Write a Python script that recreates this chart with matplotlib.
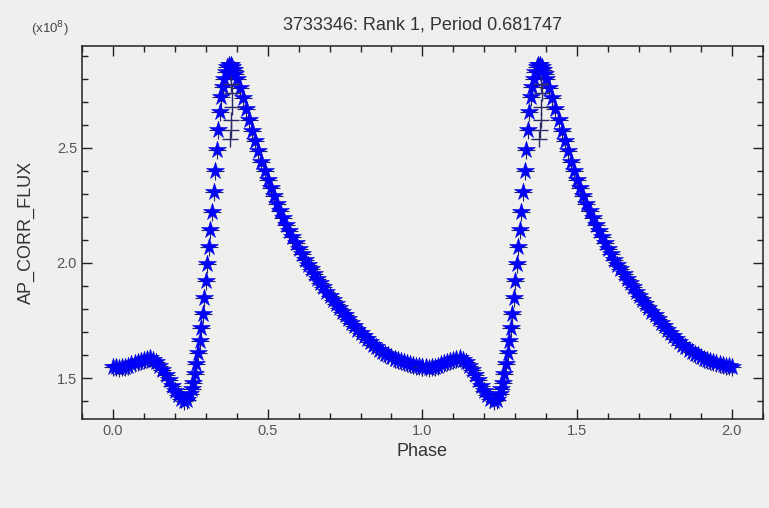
import matplotlib
matplotlib.use("Agg")
import numpy as np
import matplotlib.pyplot as plt
from matplotlib.ticker import MultipleLocator

plt.rcParams['font.family'] = ['Liberation Sans', 'DejaVu Sans']

# one folded cycle, flux in units of 1e8
phase = [0.00, 0.01, 0.02, 0.03, 0.04, 0.05, 0.06, 0.07, 0.08, 0.09,
         0.10, 0.11, 0.12, 0.13, 0.14, 0.15, 0.16, 0.17, 0.18, 0.19,
         0.20, 0.21, 0.22, 0.23, 0.24, 0.25, 0.255, 0.26, 0.265, 0.27,
         0.275, 0.28, 0.285, 0.29, 0.295, 0.30, 0.305, 0.31, 0.315, 0.32,
         0.325, 0.33, 0.335, 0.34, 0.345, 0.35, 0.355, 0.36, 0.365, 0.37,
         0.375, 0.38, 0.385, 0.39, 0.395, 0.40, 0.41, 0.42, 0.43, 0.44,
         0.45, 0.46, 0.47, 0.48, 0.49, 0.50, 0.51, 0.52, 0.53, 0.54,
         0.55, 0.56, 0.57, 0.58, 0.59, 0.60, 0.61, 0.62, 0.63, 0.64,
         0.65, 0.66, 0.67, 0.68, 0.69, 0.70, 0.71, 0.72, 0.73, 0.74,
         0.75, 0.76, 0.77, 0.78, 0.79, 0.80, 0.81, 0.82, 0.83, 0.84,
         0.85, 0.86, 0.87, 0.88, 0.89, 0.90, 0.91, 0.92, 0.93, 0.94,
         0.95, 0.96, 0.97, 0.98, 0.99]
flux_e8 = [1.550, 1.546, 1.545, 1.547, 1.550, 1.554, 1.559, 1.564, 1.569, 1.575,
           1.580, 1.584, 1.585, 1.580, 1.568, 1.552, 1.533, 1.512, 1.490, 1.467,
           1.445, 1.425, 1.410, 1.400, 1.405, 1.430, 1.452, 1.480, 1.518, 1.560,
           1.608, 1.660, 1.718, 1.780, 1.848, 1.920, 1.995, 2.070, 2.145, 2.220,
           2.310, 2.400, 2.490, 2.580, 2.655, 2.720, 2.765, 2.800, 2.830, 2.850,
           2.862, 2.860, 2.852, 2.840, 2.822, 2.800, 2.760, 2.715, 2.668, 2.620,
           2.575, 2.530, 2.485, 2.440, 2.400, 2.360, 2.325, 2.290, 2.258, 2.225,
           2.195, 2.166, 2.138, 2.112, 2.086, 2.062, 2.038, 2.015, 1.993, 1.972,
           1.952, 1.932, 1.913, 1.894, 1.876, 1.858, 1.840, 1.823, 1.806, 1.789,
           1.772, 1.756, 1.740, 1.725, 1.710, 1.696, 1.682, 1.669, 1.657, 1.645,
           1.634, 1.624, 1.615, 1.606, 1.598, 1.591, 1.584, 1.578, 1.573, 1.568,
           1.564, 1.560, 1.557, 1.554, 1.552]

# scattered points inside the peak
out_phase = [0.378, 0.380, 0.383, 0.384, 0.385, 0.382]
out_flux_e8 = [2.54, 2.58, 2.62, 2.68, 2.74, 2.78]

bg = '#efefed'
fig = plt.figure(figsize=(7.69, 5.08), dpi=100, facecolor=bg)
ax = fig.add_axes([0.1066, 0.1752, 0.8854, 0.7342], facecolor=bg)

p = np.append(np.array(phase), [phase[0] + 1.0])
f = np.append(np.array(flux_e8), [flux_e8[0]])
for k in range(2):
    ax.plot(p + k, f, ls='none', marker='+', ms=13, mew=0.8, color='#22226a')
    ax.plot(p + k, f, ls='none', marker='*', ms=13, mew=0.4, mfc='#0000ff', mec='#0000e0')
    ax.plot(np.array(out_phase) + k, out_flux_e8, ls='none', marker='+', ms=11,
            mew=1.0, color='#2a2a66')

ax.set_xlim(-0.1, 2.1)
ax.set_ylim(1.322, 2.943)
ax.xaxis.set_major_locator(MultipleLocator(0.5))
ax.xaxis.set_minor_locator(MultipleLocator(0.1))
ax.yaxis.set_major_locator(MultipleLocator(0.5))
ax.yaxis.set_minor_locator(MultipleLocator(0.1))
ax.xaxis.set_major_formatter(plt.FormatStrFormatter('%.1f'))
ax.yaxis.set_major_formatter(plt.FormatStrFormatter('%.1f'))
ax.tick_params(which='both', direction='in', top=True, right=True,
               labelsize=10.5, labelcolor='#555555', color='#222222')
ax.tick_params(which='major', length=7, width=1)
ax.tick_params(which='minor', length=4, width=1)
for s in ax.spines.values():
    s.set_linewidth(1.1)
    s.set_color('#222222')

ax.set_title('3733346: Rank 1, Period 0.681747', fontsize=13, color='#333333', pad=12)
ax.set_xlabel('Phase', fontsize=13, color='#333333', labelpad=4)
ax.set_ylabel('AP_CORR_FLUX', fontsize=13, color='#333333', labelpad=16)
fig.text(0.040, 0.935, r'(x10$^8$)', fontsize=9.5, color='#444444')

fig.savefig('out.png', dpi=100, facecolor=bg)
